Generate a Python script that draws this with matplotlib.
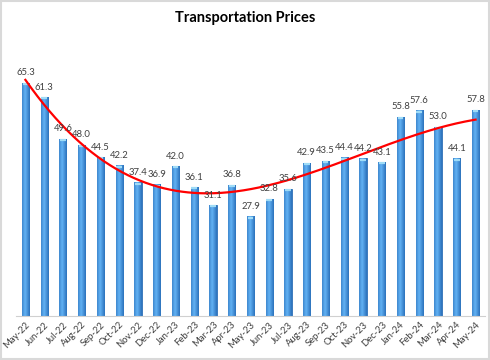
import numpy as np
import matplotlib
matplotlib.use("Agg")
import matplotlib.pyplot as plt
from matplotlib.patches import Rectangle

months = ["May-22", "Jun-22", "Jul-22", "Aug-22", "Sep-22", "Oct-22", "Nov-22", "Dec-22",
          "Jan-23", "Feb-23", "Mar-23", "Apr-23", "May-23", "Jun-23", "Jul-23", "Aug-23",
          "Sep-23", "Oct-23", "Nov-23", "Dec-23", "Jan-24", "Feb-24", "Mar-24", "Apr-24", "May-24"]
values = [65.3, 61.3, 49.6, 48.0, 44.5, 42.2, 37.4, 36.9, 42.0, 36.1, 31.1, 36.8, 27.9,
          32.8, 35.6, 42.9, 43.5, 44.4, 44.2, 43.1, 55.8, 57.6, 53.0, 44.1, 57.8]
title = "Transportation Prices"

plt.rcParams['font.family'] = ['Lato', 'DejaVu Sans']

fig = plt.figure(figsize=(4.9, 3.6), dpi=100)
ax = fig.add_axes([0.0327, 0.1222, 0.957, 0.6945])

x = np.arange(len(values))
w = 0.38
bars = ax.bar(x, values, width=w, color='#3f8fdf', edgecolor='#2f6fb5', linewidth=0.6, zorder=2)

# horizontal gradient on each bar
grad = np.linspace(0, 1, 64)
shade = 1 - np.abs(grad - 0.4) * 1.4
cmap = matplotlib.colors.LinearSegmentedColormap.from_list("b", ["#2165b0", "#62b2f4"])
for b in bars:
    x0, y0 = b.get_x(), b.get_y()
    im = ax.imshow(shade[np.newaxis, :], extent=[x0, x0 + b.get_width(), y0, y0 + b.get_height()],
                   aspect='auto', cmap=cmap, vmin=0, vmax=1, zorder=2.1)
    im.set_clip_path(b)
for xi, v in zip(x, values):
    ax.plot([xi - w / 2 * 0.8, xi + w / 2 * 0.8], [v - 0.4, v - 0.4], color='#9fdcf7',
            lw=1.6, solid_capstyle='butt', zorder=2.5)

for xi, v in zip(x, values):
    ax.text(xi, v + 1.5, f"{v:.1f}", ha='center', va='bottom', fontsize=6.8, color='#404040', zorder=4)

# polynomial trendline (order 3)
coef = np.polyfit(x, values, 3)
xs = np.linspace(0, len(values) - 1, 300)
ax.plot(xs, np.polyval(coef, xs), color='#ff0000', lw=1.6, zorder=3)

ax.set_xlim(-0.5, len(values) - 0.5)
ax.set_ylim(0, 70)
ax.set_xticks(x)
ax.set_xticklabels(months, rotation=45, ha='right', rotation_mode='anchor', fontsize=6.8, color='#404040')
ax.tick_params(axis='x', length=0, pad=3)
ax.set_yticks([])
for s in ['top', 'right', 'left']:
    ax.spines[s].set_visible(False)
ax.spines['bottom'].set_color('#d0d0d0')
ax.spines['bottom'].set_linewidth(0.8)

fig.text(0.5, 0.95, title, ha='center', va='center', fontsize=10.5, fontweight='bold', color='#000000')

fig.patches.append(Rectangle((0.002, 0.003), 0.996, 0.994, transform=fig.transFigure,
                             fill=False, edgecolor='#d9d9d9', linewidth=1.5))

fig.savefig("out.png", dpi=100)
